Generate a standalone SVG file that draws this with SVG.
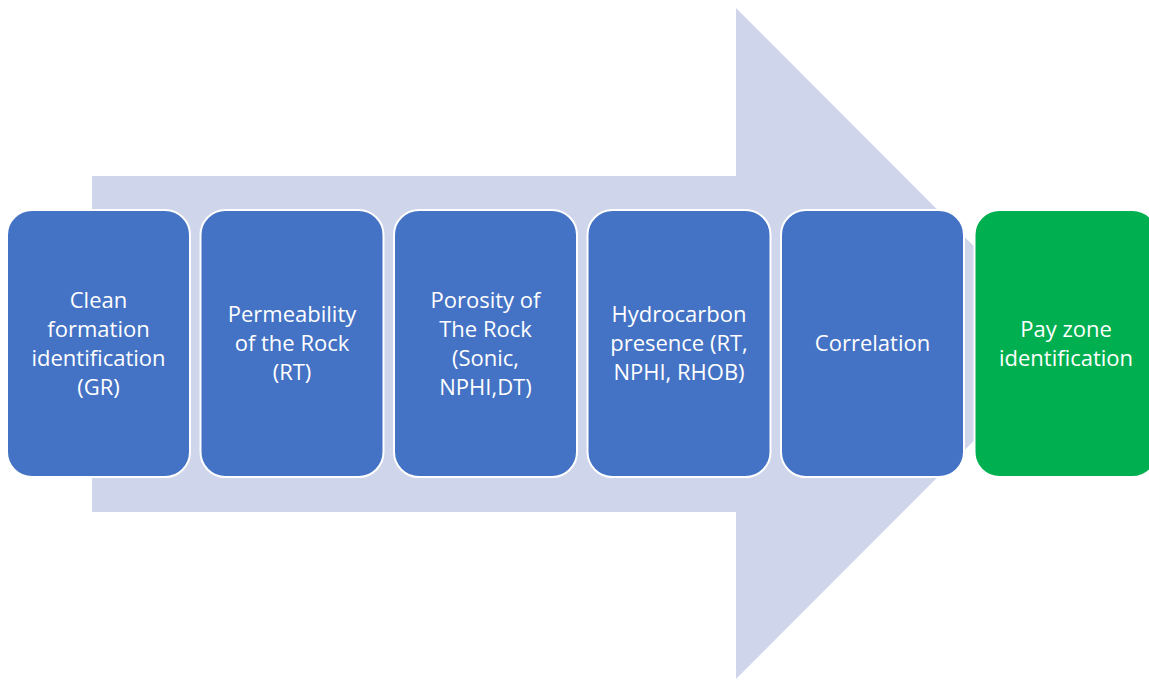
<svg xmlns="http://www.w3.org/2000/svg" width="1149" height="681" viewBox="0 0 1149 681">
<style>
.box{fill:#4472C4;stroke:#FFFFFF;stroke-width:2}
.pay{fill:#00B050;stroke:#FFFFFF;stroke-width:2}
.t{font-family:"Open Sans","Liberation Sans",sans-serif;font-size:22px;fill:#FFFFFF;text-anchor:middle}
</style>
<rect width="1149" height="681" fill="#FFFFFF"/>
<g id="arrow">
<polygon points="92,176 736,176 736,8 1071,343.5 736,679 736,512 92,512" fill="#CFD5EA"/>
</g>
<g id="connectors"></g>
<g id="n1">
<rect class="box" x="7" y="210" width="183" height="267" rx="25"/>
<text class="t" x="98.5" y="308">Clean</text>
<text class="t" x="98.5" y="337">formation</text>
<text class="t" x="98.5" y="366">identification</text>
<text class="t" x="98.5" y="395">(GR)</text>
</g>
<g id="n2">
<rect class="box" x="200.5" y="210" width="183" height="267" rx="25"/>
<text class="t" x="292" y="322">Permeability</text>
<text class="t" x="292" y="351">of the Rock</text>
<text class="t" x="292" y="380">(RT)</text>
</g>
<g id="n3">
<rect class="box" x="394" y="210" width="183" height="267" rx="25"/>
<text class="t" x="485.5" y="308">Porosity of</text>
<text class="t" x="485.5" y="337">The Rock</text>
<text class="t" x="485.5" y="366">(Sonic,</text>
<text class="t" x="485.5" y="395">NPHI,DT)</text>
</g>
<g id="n4">
<rect class="box" x="587.5" y="210" width="183" height="267" rx="25"/>
<text class="t" x="679" y="322">Hydrocarbon</text>
<text class="t" x="679" y="351">presence (RT,</text>
<text class="t" x="679" y="380">NPHI, RHOB)</text>
</g>
<g id="n5">
<rect class="box" x="781" y="210" width="183" height="267" rx="25"/>
<text class="t" x="872.5" y="351">Correlation</text>
</g>
<g id="n6">
<rect class="pay" x="974.5" y="210" width="183" height="267" rx="25"/>
<text class="t" x="1066" y="337">Pay zone</text>
<text class="t" x="1066" y="366">identification</text>
</g>
</svg>
